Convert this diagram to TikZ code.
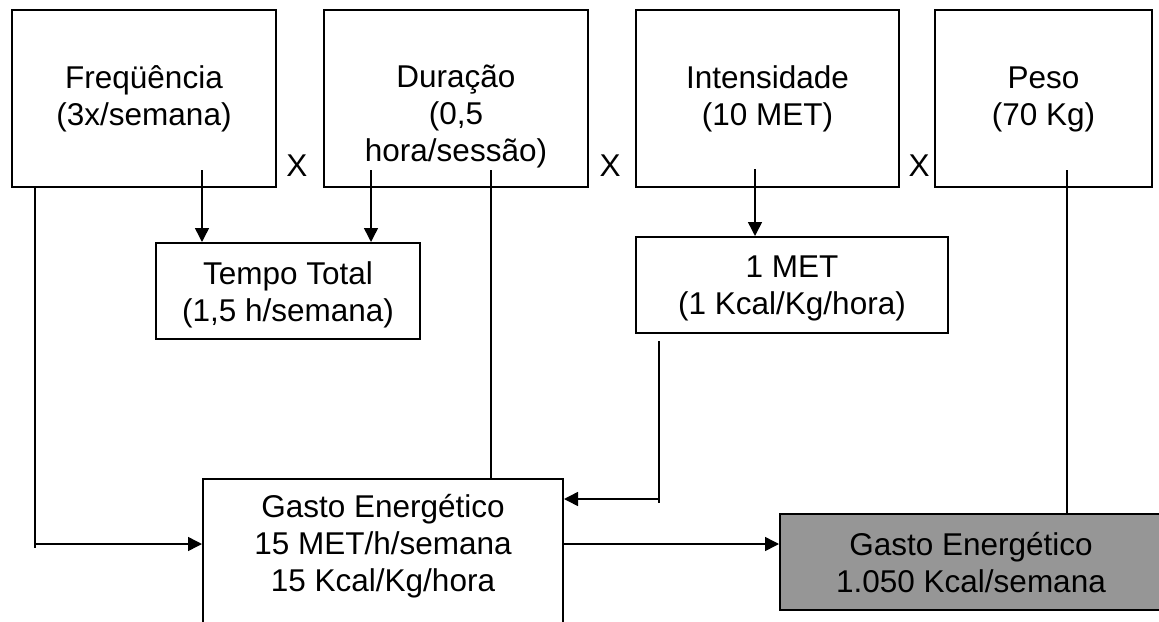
\documentclass[tikz,border=0pt]{standalone}
\usepackage{fontspec}
\setmainfont{Liberation Sans}
\usetikzlibrary{arrows.meta,calc}
\definecolor{boxgray}{RGB}{150,150,150}
\begin{document}
\begin{tikzpicture}[x=1pt,y=-1pt,
  txt/.style={font=\fontsize{31.5}{37}\selectfont},
  box/.style={txt, draw=black, line width=2pt, rectangle, inner xsep=0pt, inner ysep=0pt, align=center, anchor=north west},
  conn/.style={line width=1.5pt},
  arr/.style={conn, -{Triangle[length=14pt,width=14pt]}},
  lbl/.style={txt, inner sep=0pt, anchor=base}]
\useasboundingbox (0,0) rectangle (1159,621);
\clip (0,0) rectangle (1159,621);
\fill[white] (0,0) rectangle (1159,621);

% top row
\node[box, minimum width=264pt, text height=115pt, text depth=62pt] (f) at (11,9) {Freqüência\\(3x/semana)};
\node[box, minimum width=264pt, text height=151pt, text depth=26pt] (d) at (323,9) {Duração\\(0,5\\hora/sessão)};
\node[box, minimum width=263pt, text height=115pt, text depth=62pt] (i) at (635,9) {Intensidade\\(10 MET)};
\node[box, minimum width=217pt, text height=115pt, text depth=62pt] (p) at (934,9) {Peso\\(70 Kg)};

\node[lbl] (x1) at (297,176) {X};
\node[lbl] (x2) at (610,176) {X};
\node[lbl] (x3) at (919,176) {X};

% middle row
\node[box, minimum width=264pt, text height=78pt, text depth=18pt] (t) at (155,242) {Tempo Total\\(1,5 h/semana)};
\node[box, minimum width=312pt, text height=77pt, text depth=19pt] (m) at (635,236) {1 MET\\(1 Kcal/Kg/hora)};

% bottom row
\node[box, minimum width=360pt, text height=112pt, text depth=48pt] (g) at (202,478) {Gasto Energético\\15 MET/h/semana\\15 Kcal/Kg/hora};
\node[box, fill=boxgray, minimum width=382pt, text height=78pt, text depth=18pt] (r) at (779,513) {Gasto Energético\\1.050 Kcal/semana};

% connector points
\coordinate (fa) at (202,170);
\coordinate (da) at (371,170);
\coordinate (db) at (491,170);
\coordinate (ia) at (755,169);
\coordinate (pa) at (1067,170);
\coordinate (la) at (35,188);
\coordinate (lb) at (35,544);
\coordinate (lc) at (35,548);
\coordinate (ma) at (659,341);
\coordinate (mb) at (659,499);
\coordinate (mc) at (659,503);
\coordinate (ga) at (562,544);

% connectors
\draw[arr] (fa) -- (fa |- t.north);
\draw[arr] (da) -- (da |- t.north);
\draw[conn] (db) -- (db |- g.north);
\draw[arr] (ia) -- (ia |- m.north);
\draw[conn] (pa) -- (pa |- r.north);
\draw[conn] (la) -- (lc);
\draw[arr] (lb) -- (lb -| g.west);
\draw[conn] (ma) -- (mc);
\draw[arr] (mb) -- (mb -| g.east);
\draw[arr] (ga) -- (ga -| r.west);
\end{tikzpicture}
\end{document}
